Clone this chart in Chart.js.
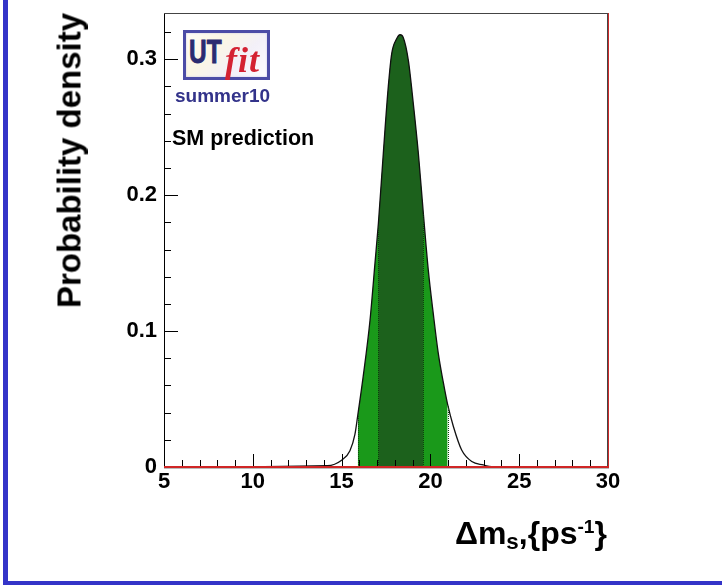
<!DOCTYPE html>
<html><head><meta charset="utf-8">
<script src="https://cdn.jsdelivr.net/npm/chart.js@4.4.0/dist/chart.umd.min.js"></script>
<style>
html,body{margin:0;padding:0;background:#fff;}
#wrap{position:relative;width:722px;height:588px;overflow:hidden;font-family:"Liberation Sans",Arial,Helvetica,sans-serif;}
canvas{position:absolute;left:0;top:0;}
.t{position:absolute;white-space:nowrap;font-weight:bold;}
</style></head><body>
<div id="wrap">
<canvas id="c" width="722" height="588"></canvas>
<div style="position:absolute;left:3px;top:0;width:5px;height:585px;background:#3434c8"></div>
<div style="position:absolute;left:3px;top:581px;width:719px;height:4px;background:#3434c8"></div>

<div style="position:absolute;left:183px;top:30px;width:81px;height:44px;border:3px solid #4c4ca6;background:linear-gradient(135deg,#fffdf6 0%,#fbf6e4 35%,#f3f0f8 65%,#fdfcff 100%);box-shadow:inset 0 0 2px #c0c0e0;"></div>
<div class="t" style="left:189px;top:35px;font-size:33px;line-height:33px;color:#2b2b70;-webkit-text-stroke:0.9px #2b2b70;"><span style="display:inline-block;transform:scaleX(0.74);transform-origin:left center;">UT</span></div>
<div class="t" style="left:225px;top:42px;font-family:'Liberation Serif','Times New Roman',serif;font-style:italic;font-weight:bold;font-size:36px;line-height:36px;letter-spacing:1px;color:#d42232;">fit</div>
<div class="t" style="left:175px;top:86px;font-size:19px;line-height:19px;color:#33338a;">summer10</div>
<div class="t" style="left:172px;top:128px;font-size:21.5px;line-height:21.5px;color:#000;">SM prediction</div>

<div class="t" style="left:-131px;top:143.5px;width:400px;text-align:center;font-size:33px;line-height:33px;color:#000;transform:rotate(-90deg);transform-origin:center center;">Probability density</div>

<div class="t" style="right:115px;top:517px;font-size:32px;line-height:32px;color:#000;">&Delta;m<span style="font-size:0.7em;position:relative;top:5px;">s</span>,{ps<span style="font-size:0.6em;position:relative;top:-11px;">-1</span>}</div>
</div>
<script>
// Data
const curveX = [5, 14.2, 15.0, 15.47, 15.75, 15.91, 16.22, 16.6, 16.88, 17.07, 17.35, 17.63, 17.82, 18.1, 18.29, 18.47, 18.76, 19.04, 19.32, 19.6, 19.88, 20.16, 20.44, 20.73, 20.97, 21.29, 21.76, 22.33, 22.98, 23.45, 30];
const curveY = [0, 0.001, 0.005, 0.012, 0.024, 0.038, 0.067, 0.108, 0.150, 0.179, 0.231, 0.280, 0.304, 0.315, 0.318, 0.316, 0.299, 0.267, 0.231, 0.187, 0.145, 0.113, 0.084, 0.062, 0.046, 0.030, 0.0125, 0.004, 0.0015, 0.0002, 0];
const band68 = [17.07, 19.60];
const band95 = [15.91, 20.97];
const xTicks = [5, 10, 15, 20, 25, 30];
const xTickLabels = ['5', '10', '15', '20', '25', '30'];
const yTicks = [0, 0.1, 0.2, 0.3];
const yTickLabels = ['0', '0.1', '0.2', '0.3'];

const pts = curveX.map((x, i) => ({x: x, y: curveY[i]}));
const inBand = b => pts.filter(p => p.x >= b[0] - 1e-9 && p.x <= b[1] + 1e-9);

const edges = {
  id: 'edges',
  afterDatasetsDraw(chart) {
    const ctx = chart.ctx, xs = chart.scales.x, ys = chart.scales.y;
    ctx.save();
    ctx.lineWidth = 1;
    ctx.setLineDash([1, 1]);
    [[band95, '#0e4a0e'], [band68, '#0e3a0e']].forEach(([b, col]) => {
      b.forEach(xv => {
        const p = pts.find(q => Math.abs(q.x - xv) < 1e-9);
        const px = Math.round(xs.getPixelForValue(p.x)) + 0.5;
        ctx.strokeStyle = col;
        ctx.beginPath();
        ctx.moveTo(px, ys.getPixelForValue(0));
        ctx.lineTo(px, ys.getPixelForValue(p.y) + 1);
        ctx.stroke();
      });
    });
    ctx.restore();
  }
};

const frame = {
  id: 'frame',
  afterDatasetsDraw(chart) {
    const ctx = chart.ctx, a = chart.chartArea, xs = chart.scales.x, ys = chart.scales.y;
    ctx.save();
    ctx.lineWidth = 1;
    ctx.strokeStyle = '#000';
    ctx.beginPath();
    for (let v = 5; v <= 30; v += 1) {
      const px = Math.round(xs.getPixelForValue(v)) + 0.5;
      const len = (v % 5 === 0) ? 13 : 7;
      ctx.moveTo(px, a.bottom); ctx.lineTo(px, a.bottom - len);
    }
    for (let k = 0; k <= 16; k++) {
      const py = Math.round(ys.getPixelForValue(k * 0.02)) + 0.5;
      const len = (k % 5 === 0) ? 14 : 7;
      ctx.moveTo(a.left, py); ctx.lineTo(a.left + len, py);
    }
    ctx.stroke();
    ctx.beginPath(); ctx.strokeStyle = '#000';
    ctx.moveTo(a.left + 0.5, a.top); ctx.lineTo(a.left + 0.5, a.bottom); ctx.stroke();
    ctx.beginPath(); ctx.strokeStyle = '#444';
    ctx.moveTo(a.left, a.top + 0.5); ctx.lineTo(a.right, a.top + 0.5); ctx.stroke();
    ctx.beginPath(); ctx.strokeStyle = '#444';
    ctx.moveTo(a.right - 0.5, a.top); ctx.lineTo(a.right - 0.5, a.bottom); ctx.stroke();
    ctx.beginPath(); ctx.strokeStyle = '#cc2a2a';
    ctx.moveTo(a.right + 0.5, a.top); ctx.lineTo(a.right + 0.5, a.bottom); ctx.stroke();
    ctx.beginPath(); ctx.strokeStyle = '#bbbbbb';
    ctx.moveTo(a.left, a.bottom + 1.5); ctx.lineTo(a.right + 1, a.bottom + 1.5); ctx.stroke();
    ctx.beginPath(); ctx.strokeStyle = '#d02626'; ctx.lineWidth = 2;
    ctx.moveTo(a.left, a.bottom); ctx.lineTo(a.right + 1, a.bottom); ctx.stroke();
    ctx.restore();
  }
};

const tickFont = {family: '"Liberation Sans", Arial, Helvetica, sans-serif', size: 22, weight: 'bold'};

new Chart(document.getElementById('c'), {
  type: 'line',
  data: {
    datasets: [
      {data: pts, borderColor: '#111', borderWidth: 1.3, pointRadius: 0, fill: false, cubicInterpolationMode: 'monotone'},
      {data: inBand(band68), borderWidth: 0, borderColor: 'rgba(0,0,0,0)', backgroundColor: '#1c611c', pointRadius: 0, fill: 'origin', cubicInterpolationMode: 'monotone'},
      {data: inBand(band95), borderWidth: 0, borderColor: 'rgba(0,0,0,0)', backgroundColor: '#1a991a', pointRadius: 0, fill: 'origin', cubicInterpolationMode: 'monotone'}
    ]
  },
  options: {
    responsive: false, animation: false, devicePixelRatio: 1,
    layout: {padding: {top: 13, right: 114, left: 0, bottom: 0}},
    plugins: {legend: {display: false}, tooltip: {enabled: false}},
    scales: {
      x: {
        type: 'linear', min: 5, max: 30,
        grid: {display: false, drawTicks: false}, border: {display: false},
        afterBuildTicks: s => { s.ticks = xTicks.map(v => ({value: v})); },
        afterFit: s => { s.height = 121; s.paddingLeft = 0; s.paddingRight = 0; },
        ticks: {autoSkip: false, maxRotation: 0, minRotation: 0, padding: 2, color: '#000', font: tickFont,
          callback: (v, i) => xTickLabels[i]}
      },
      y: {
        type: 'linear', min: 0, max: 0.334,
        grid: {display: false, drawTicks: false}, border: {display: false},
        afterBuildTicks: s => { s.ticks = yTicks.map(v => ({value: v})); },
        afterFit: s => { s.width = 164; s.paddingTop = 0; s.paddingBottom = 0; },
        ticks: {autoSkip: false, padding: 7, color: '#000', font: tickFont,
          callback: (v, i) => yTickLabels[i]}
      }
    }
  },
  plugins: [edges, frame]
});
</script>
</body></html>
